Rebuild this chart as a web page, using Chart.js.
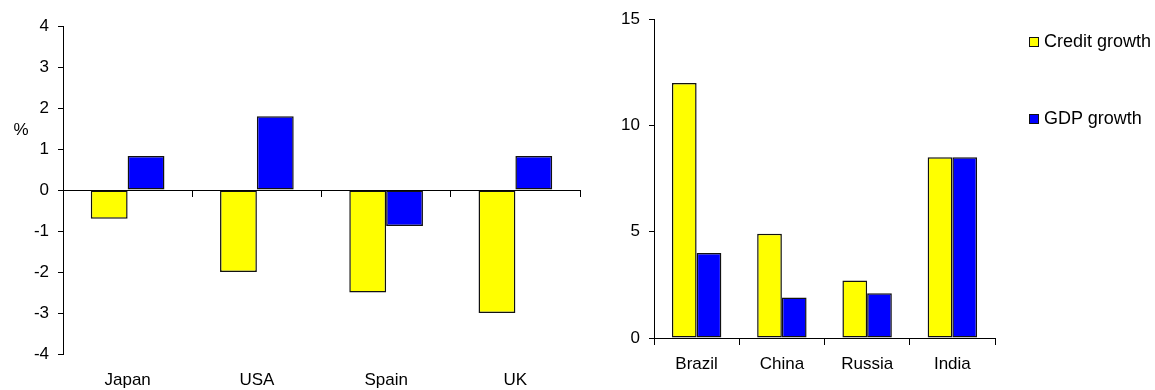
<!DOCTYPE html>
<html>
<head>
<meta charset="utf-8">
<script src="https://cdn.jsdelivr.net/npm/chart.js@4.4.1/dist/chart.umd.min.js"></script>
<style>
  html, body { margin: 0; padding: 0; background: #fff; }
  #wrap { position: relative; width: 1155px; height: 390px; overflow: hidden; }
  canvas { position: absolute; top: 0; }
  #advCanvas { left: 0; }
  #emCanvas { left: 590px; }
  .legend-item { position: absolute; left: 1029px; height: 20px; font: 18px "Liberation Sans", Arial, sans-serif; color: #000; white-space: nowrap; }
  .legend-item .box { position: absolute; left: 0; top: 6px; width: 8px; height: 8px; border: 1px solid #111; }
  .legend-item .txt { position: absolute; left: 15px; top: 0; line-height: 20px; }
</style>
</head>
<body>
<div id="wrap">
  <canvas id="advCanvas" width="600" height="390"></canvas>
  <canvas id="emCanvas" width="565" height="390"></canvas>
</div>
<script>
// Advanced economies (left panel)
const advCategories = ['Japan', 'USA', 'Spain', 'UK'];
const advCredit = [-0.7, -2.0, -2.5, -3.0];
const advGdp = [0.83, 1.8, -0.88, 0.83];
const advTicks = [-4, -3, -2, -1, 0, 1, 2, 3, 4];

// Emerging economies (right panel)
const emCategories = ['Brazil', 'China', 'Russia', 'India'];
const emCredit = [12.0, 4.9, 2.7, 8.5];
const emGdp = [4.0, 1.9, 2.1, 8.5];
const emTicks = [0, 5, 10, 15];

const seriesNames = ['Credit growth', 'GDP growth'];
const seriesColors = ['#ffff00', '#0000ff'];
const unitLabel = '%';

const FONT = '"Liberation Sans", Arial, sans-serif';

function makePanel(canvas, categories, credit, gdp, ticks, frame, extraPlugins) {
  const yMin = ticks[0], yMax = ticks[ticks.length - 1];
  const step = ticks[1] - ticks[0];
  const barStyle = { borderColor: '#111', borderWidth: 1.5, borderSkipped: false, xAxisID: 'x' };
  return new Chart(canvas, {
    type: 'bar',
    data: {
      labels: categories,
      datasets: [
        Object.assign({ label: seriesNames[0], data: credit, backgroundColor: seriesColors[0] }, barStyle),
        Object.assign({ label: seriesNames[1], data: gdp, backgroundColor: seriesColors[1] }, barStyle)
      ]
    },
    options: {
      responsive: false,
      animation: false,
      devicePixelRatio: 1,
      events: [],
      layout: { padding: { left: 0, right: frame.right, top: frame.top, bottom: 0 } },
      datasets: { bar: { barPercentage: 1.0, categoryPercentage: frame.catPct } },
      plugins: { legend: { display: false }, tooltip: { enabled: false } },
      scales: {
        // zero line with category separators
        x: {
          type: 'category',
          axis: 'x',
          position: { y: 0 },
          offset: true,
          border: { display: true, color: '#000', width: 1 },
          grid: { display: true, drawOnChartArea: false, drawTicks: true, tickLength: 6, color: '#000', offset: true },
          ticks: { display: false }
        },
        // category names along the bottom
        xl: {
          type: 'category',
          axis: 'x',
          position: 'bottom',
          offset: true,
          border: { display: false },
          grid: { display: false, drawTicks: false },
          ticks: { color: '#000', font: { family: FONT, size: 17 }, padding: frame.labelPad, maxRotation: 0, autoSkip: false },
          afterFit: s => { s.height = frame.bottomH; }
        },
        y: {
          min: yMin,
          max: yMax,
          position: 'left',
          border: { display: true, color: '#000', width: 1 },
          grid: { display: true, drawOnChartArea: false, drawTicks: true, tickLength: 5, color: '#000' },
          ticks: { stepSize: step, color: '#000', font: { family: FONT, size: 17 }, padding: 9 },
          afterFit: s => { s.width = frame.left; }
        }
      }
    },
    plugins: extraPlugins || []
  });
}

// unit label beside the left value axis
const unitPlugin = {
  id: 'unitLabel',
  afterDraw(chart) {
    const ctx = chart.ctx;
    const y = chart.scales.y;
    ctx.save();
    ctx.fillStyle = '#000';
    ctx.font = '17px ' + FONT;
    ctx.textAlign = 'center';
    ctx.textBaseline = 'middle';
    ctx.fillText(unitLabel, 21, y.getPixelForValue(1.45));
    ctx.restore();
  }
};

makePanel(document.getElementById('advCanvas'), advCategories, advCredit, advGdp, advTicks,
  { left: 63, right: 20, top: 26, bottomH: 36, labelPad: 16, catPct: 0.57 }, [unitPlugin]);

makePanel(document.getElementById('emCanvas'), emCategories, emCredit, emGdp, emTicks,
  { left: 64, right: 160, top: 19, bottomH: 52, labelPad: 16, catPct: 0.58 });

// legend
const wrap = document.getElementById('wrap');
const legendTops = [31, 108];
seriesNames.forEach((name, i) => {
  const item = document.createElement('div');
  item.className = 'legend-item';
  item.style.top = legendTops[i] + 'px';
  const box = document.createElement('span');
  box.className = 'box';
  box.style.background = seriesColors[i];
  const txt = document.createElement('span');
  txt.className = 'txt';
  txt.textContent = name;
  item.appendChild(box);
  item.appendChild(txt);
  wrap.appendChild(item);
});
</script>
</body>
</html>
